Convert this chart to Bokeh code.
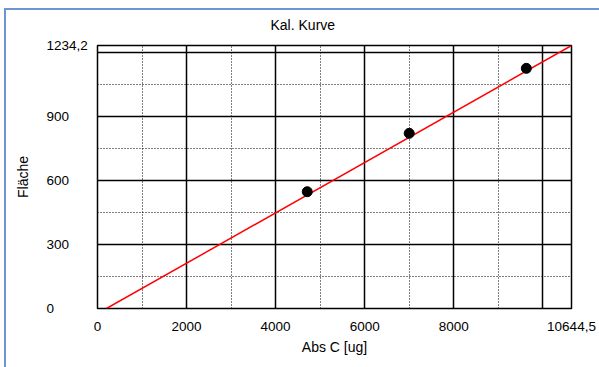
import math
from bokeh.plotting import figure
from bokeh.layouts import row, column
from bokeh.models import Range1d, FixedTicker, Grid
from bokeh.core.properties import value
from bokeh.embed import file_html
from bokeh.resources import INLINE

# ---- data ----
title_text = "Kal. Kurve"
x_label = "Abs C [ug]"
y_label = "Fläche"
x_min, x_max = 0, 10644.5
y_min, y_max = 0, 1234.2
sample_x = [4710, 7000, 9630]
sample_y = [548, 822, 1127]
fit_x = [202, 10644.5]
fit_y = [0, 1234.2]
x_ticks = [0, 2000, 4000, 6000, 8000, 10644.5]
x_tick_labels = ["0", "2000", "4000", "6000", "8000", "10644,5"]
y_ticks = [0, 300, 600, 900, 1234.2]
y_tick_labels = ["0", "300", "600", "900", "1234,2"]
x_major_grid = [2000, 4000, 6000, 8000, 10000]
x_minor_grid = [1000, 3000, 5000, 7000, 9000]
y_major_grid = [300, 600, 900, 1200]
y_minor_grid = [150, 450, 750, 1050]

# ---- layout / style ----
FONT = "Liberation Sans"
FS = "14px"
TFS = "13.5px"
BLUE = "#6B96D3"
TOTAL_W = 593
TOP_H = 27          # strip holding the chart title
ROW_H = 330         # main plot height
PAD_TOP = 8         # space above frame inside main plot
FRAME_H = 263
PAD_BOTTOM = ROW_H - PAD_TOP - FRAME_H
LEFT_W = 84
MAIN_W = TOTAL_W - LEFT_W
FRAME_W = 474
PAD_LEFT = 7
PAD_RIGHT = MAIN_W - PAD_LEFT - FRAME_W


def bare(fig):
    fig.frame_align = False
    fig.grid.visible = False
    fig.outline_line_color = None
    fig.background_fill_color = "white"
    fig.border_fill_color = "white"
    return fig


# title strip
tp = bare(figure(width=TOTAL_W, height=TOP_H,
                 x_range=Range1d(0, TOTAL_W), y_range=Range1d(0, TOP_H),
                 output_backend="svg", toolbar_location=None,
                 x_axis_location=None, y_axis_location=None,
                 min_border_left=0, min_border_right=0,
                 min_border_top=0, min_border_bottom=0))
tp.text(x=[264], y=[13], text=[title_text], text_align="left",
        text_baseline="middle", text_font=value(FONT),
        text_font_size=value(FS), text_color="black")

# main plot
p = figure(width=MAIN_W, height=ROW_H,
           x_range=Range1d(x_min, x_max), y_range=Range1d(y_min, y_max),
           output_backend="svg", toolbar_location=None,
           min_border_left=PAD_LEFT, min_border_right=PAD_RIGHT,
           min_border_top=PAD_TOP, min_border_bottom=PAD_BOTTOM)
p.frame_align = False
p.background_fill_color = "white"
p.border_fill_color = "white"
p.outline_line_color = "black"
p.outline_line_width = 1.5
p.outline_line_alpha = 1.0

xa = p.xaxis[0]
xa.ticker = FixedTicker(ticks=x_ticks)
xa.major_label_overrides = dict(zip(x_ticks, x_tick_labels))
xa.major_tick_out = 0
xa.major_tick_in = 0
xa.minor_tick_out = 0
xa.minor_tick_in = 0
xa.axis_line_color = None
xa.major_label_standoff = 13
xa.major_label_text_font = FONT
xa.major_label_text_font_size = TFS
xa.major_label_text_color = "black"
xa.axis_label = x_label
xa.axis_label_standoff = 5
xa.axis_label_text_font = FONT
xa.axis_label_text_font_size = FS
xa.axis_label_text_font_style = "normal"
xa.axis_label_text_color = "black"

p.yaxis.visible = False

p.xgrid.ticker = FixedTicker(ticks=x_major_grid)
p.xgrid.grid_line_color = "black"
p.xgrid.grid_line_width = 1.5
p.ygrid.ticker = FixedTicker(ticks=y_major_grid)
p.ygrid.grid_line_color = "black"
p.ygrid.grid_line_width = 1.5
p.add_layout(Grid(dimension=0, ticker=FixedTicker(ticks=x_minor_grid),
                  grid_line_color="black", grid_line_width=1, grid_line_dash="1 2"))
p.add_layout(Grid(dimension=1, ticker=FixedTicker(ticks=y_minor_grid),
                  grid_line_color="black", grid_line_width=1, grid_line_dash="1 2"))

p.line(fit_x, fit_y, line_color="red", line_width=1.5)
p.scatter(sample_x, sample_y, size=10, color="black")

# left strip: left-aligned y tick labels and the y axis title,
# on the same vertical scale as the main plot
upp = (y_max - y_min) / FRAME_H
lp = bare(figure(width=LEFT_W, height=ROW_H,
                 x_range=Range1d(0, LEFT_W),
                 y_range=Range1d(y_min - PAD_BOTTOM * upp, y_max + PAD_TOP * upp),
                 output_backend="svg", toolbar_location=None,
                 x_axis_location=None, y_axis_location=None,
                 min_border_left=0, min_border_right=0,
                 min_border_top=0, min_border_bottom=0))
lp.text(x=[40] * len(y_ticks), y=y_ticks, text=y_tick_labels,
        text_align="left", text_baseline="middle",
        text_font=value(FONT), text_font_size=value(TFS), text_color="black")
lp.text(x=[16.5], y=[(y_min + y_max) / 2], text=[y_label], angle=math.pi / 2,
        text_align="center", text_baseline="middle",
        text_font=value(FONT), text_font_size=value(FS), text_color="black")

layout = column(tp, row(lp, p))
layout.styles = {"margin-left": "4px", "margin-top": "8px",
                 "border-left": f"2px solid {BLUE}",
                 "border-top": f"2px solid {BLUE}"}

open("out.html", "w").write(file_html(layout, INLINE))
